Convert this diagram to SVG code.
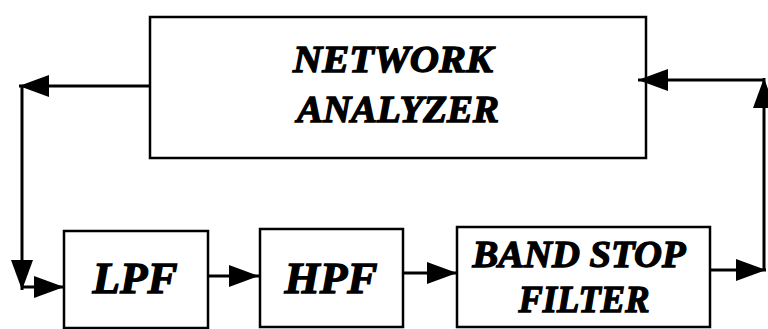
<svg xmlns="http://www.w3.org/2000/svg" width="768" height="329" viewBox="0 0 768 329">
<style>
.box{fill:#fff;stroke:#000;stroke-width:2.5}
.lbl{font-family:"Liberation Serif","Times New Roman",serif;font-weight:bold;font-style:italic;fill:#000;stroke:#000;stroke-width:1.3;text-anchor:middle}
.wire{fill:none;stroke:#000;stroke-width:3}
</style>
<defs>
<marker id="ah" markerUnits="userSpaceOnUse" markerWidth="32" markerHeight="22" refX="30" refY="11" orient="auto">
<path d="M0,0 L30,11 L0,22 z" fill="#000"/>
</marker>
</defs>
<rect width="768" height="329" fill="#fff"/>
<g id="network-analyzer">
<rect class="box" x="150" y="17" width="496" height="141"/>
<text class="lbl" x="393" y="72" font-size="38" textLength="200" lengthAdjust="spacingAndGlyphs">NETWORK</text>
<text class="lbl" x="398" y="122" font-size="38" textLength="202" lengthAdjust="spacingAndGlyphs">ANALYZER</text>
</g>
<g id="lpf">
<rect class="box" x="64" y="231" width="144" height="97"/>
<text class="lbl" x="135" y="293" font-size="44" textLength="85" lengthAdjust="spacingAndGlyphs">LPF</text>
</g>
<g id="hpf">
<rect class="box" x="260" y="229" width="143" height="98"/>
<text class="lbl" x="331" y="293" font-size="44" textLength="93" lengthAdjust="spacingAndGlyphs">HPF</text>
</g>
<g id="band-stop-filter">
<rect class="box" x="457" y="227" width="253" height="100"/>
<text class="lbl" x="579" y="267" font-size="38" textLength="213" lengthAdjust="spacingAndGlyphs">BAND STOP</text>
<text class="lbl" x="584" y="312" font-size="38" textLength="131" lengthAdjust="spacingAndGlyphs">FILTER</text>
</g>
<g id="connectors">
<path class="wire" d="M150,86 L19,86" marker-end="url(#ah)"/>
<path class="wire" d="M22,86 L22,290" marker-end="url(#ah)"/>
<path class="wire" d="M22,287 L64,287" marker-end="url(#ah)"/>
<path class="wire" d="M208,276 L259,276" marker-end="url(#ah)"/>
<path class="wire" d="M403,273 L457,273" marker-end="url(#ah)"/>
<path class="wire" d="M710,270 L766,270" marker-end="url(#ah)"/>
<path class="wire" d="M764,270 L764,78" marker-end="url(#ah)"/>
<path class="wire" d="M764,80 L638,80" marker-end="url(#ah)"/>
</g>
</svg>
